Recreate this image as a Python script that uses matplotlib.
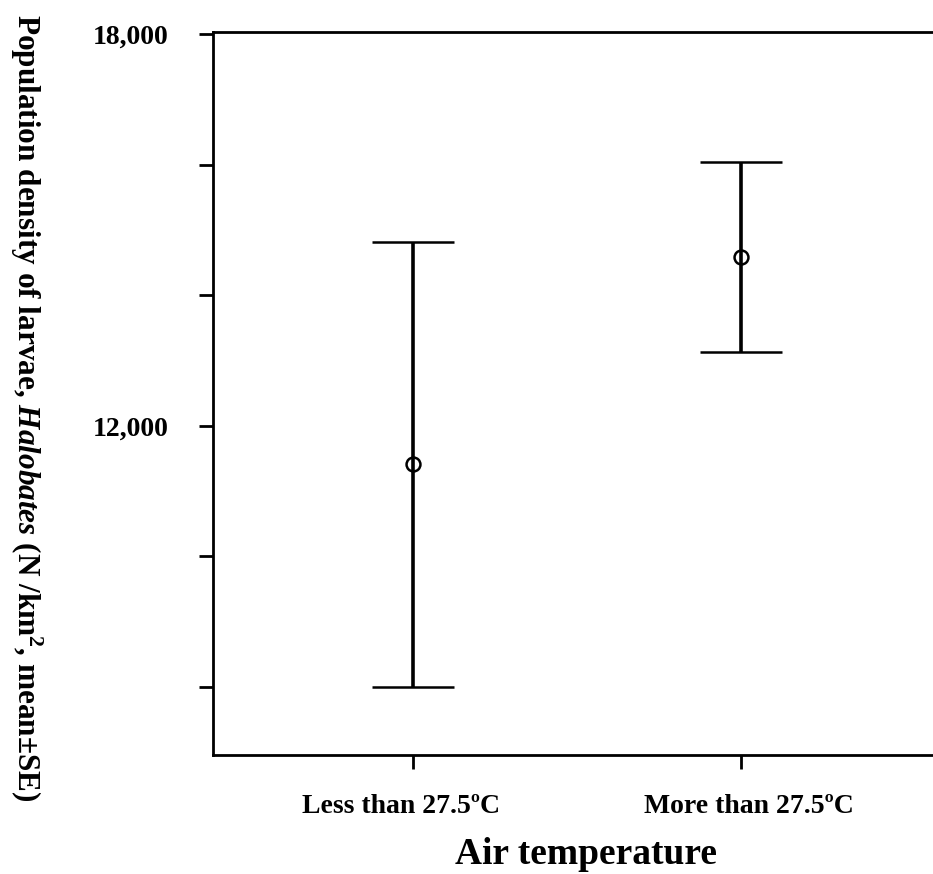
import matplotlib
matplotlib.use("Agg")
import matplotlib.pyplot as plt
from matplotlib.transforms import ScaledTranslation

plt.rcParams['font.family'] = ['Liberation Serif', 'DejaVu Serif']
plt.rcParams['font.weight'] = 'bold'
plt.rcParams['mathtext.fontset'] = 'custom'
plt.rcParams['mathtext.rm'] = 'Liberation Serif:bold'
plt.rcParams['mathtext.it'] = 'Liberation Serif:italic:bold'
plt.rcParams['mathtext.bf'] = 'Liberation Serif:bold'

# groups and mean +- SE
groups = ["Less than 27.5ºC", "More than 27.5ºC"]
means = [11420, 14590]
upper = [14820, 16040]
lower = [8000, 13130]

fig = plt.figure(figsize=(9.33, 8.74), dpi=100)
ax = fig.add_axes([0.2283, 0.1362, 0.7803, 0.8272])

x = list(range(len(groups)))
err = [[m - lo for m, lo in zip(means, lower)], [up - m for m, up in zip(means, upper)]]
ax.errorbar(x, means, yerr=err, fmt='o', color='black', ecolor='black',
            elinewidth=2.6, capsize=29.5, capthick=2.6,
            markerfacecolor='none', markeredgecolor='black',
            markersize=10, markeredgewidth=1.8, zorder=3)

ax.set_xlim(-0.61, 1.61)
ax.set_ylim(6960, 18030)
ax.set_xticks(x)
ax.set_xticklabels(groups, fontsize=20, fontweight='bold')
ax.set_yticks([8000, 10000, 12000, 14000, 16000, 18000])
ax.set_yticklabels(['', '', '12,000', '', '', '18,000'], fontsize=20, fontweight='bold')
ax.tick_params(axis='both', direction='out', length=10, width=2, colors='black', pad=22)
ax.tick_params(axis='x', pad=18)

# the category labels sit slightly off their ticks in the original
for lab, dx in zip(ax.get_xticklabels(), [-12, 8]):
    lab.set_transform(lab.get_transform() + ScaledTranslation(dx / 100, 0, fig.dpi_scale_trans))

for s in ax.spines.values():
    s.set_linewidth(2)

ax.set_xlabel("Air temperature", fontsize=27, fontweight='bold')
ax.xaxis.set_label_coords(0.512, -0.113)
ax.set_ylabel(r"Population density of larvae, $\mathit{Halobates}$ (N /km$^{2}$, mean±SE)",
              fontsize=22.5, fontweight='bold', rotation=270)
ax.yaxis.set_label_coords(-0.281, 0.48)

fig.savefig("out.png", dpi=100)
